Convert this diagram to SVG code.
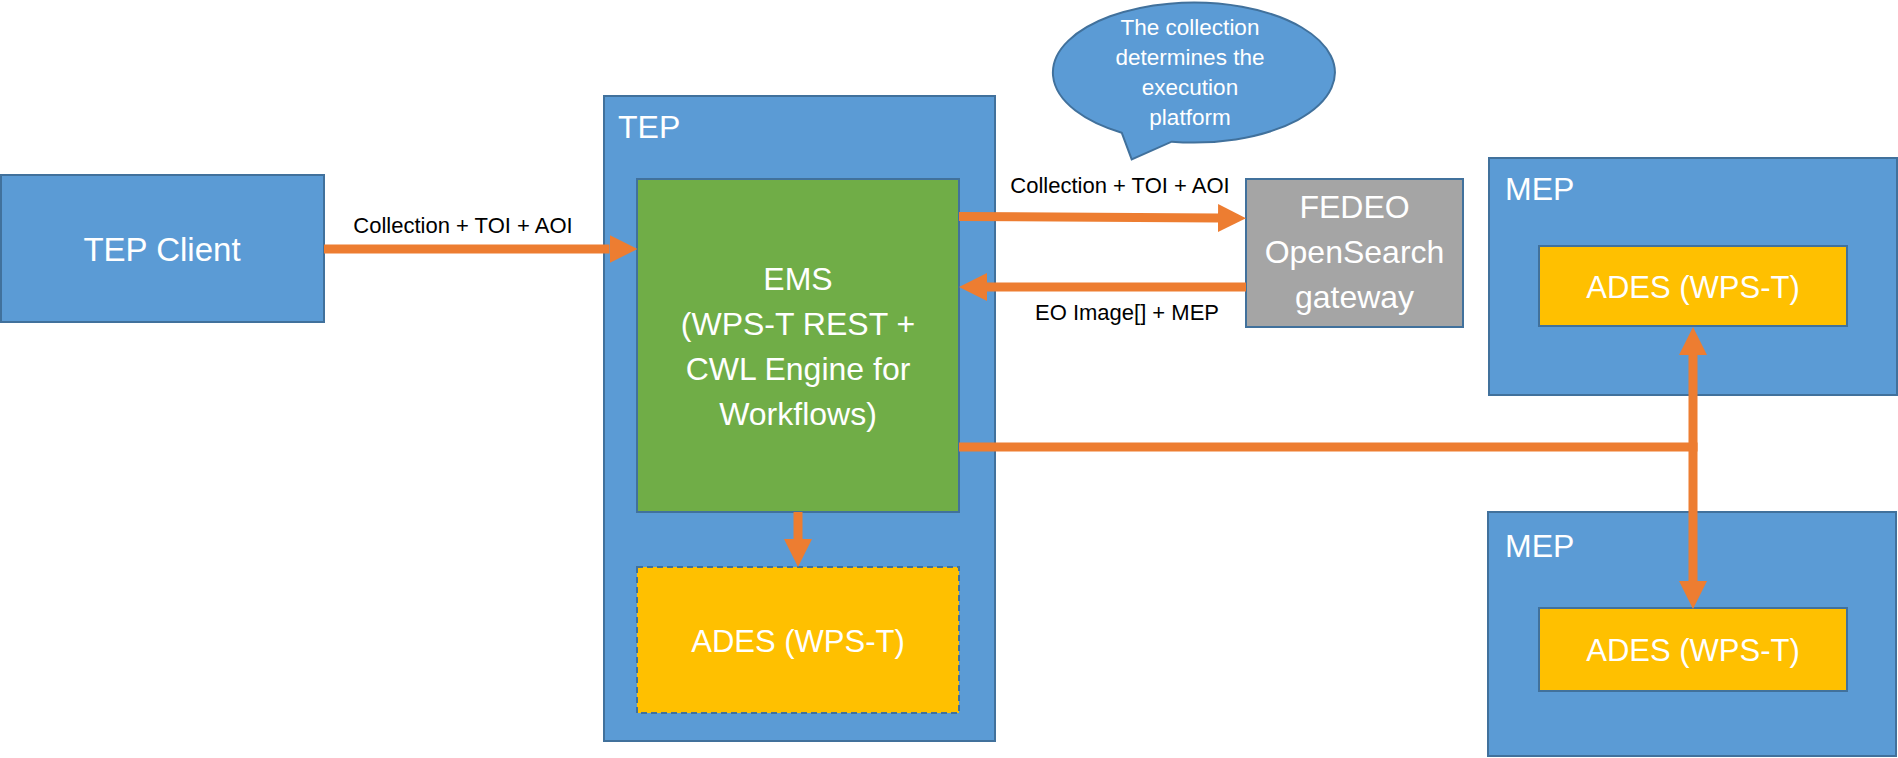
<svg xmlns="http://www.w3.org/2000/svg" width="1898" height="758" viewBox="0 0 1898 758">
<defs>
<style>
.blue{fill:#5B9BD5;stroke:#41719C;stroke-width:2}
.green{fill:#70AD47;stroke:#41719C;stroke-width:2}
.gold{fill:#FFC000;stroke:#41719C;stroke-width:2}
.dash{stroke-dasharray:6 4}
.gray{fill:#A5A5A5;stroke:#41719C;stroke-width:2}
.w{fill:#FFFFFF;font-family:"Liberation Sans",Arial,sans-serif}
.c{text-anchor:middle}
.big{font-size:32px}
.mid{font-size:31px}
.hd{font-size:32px}
.sm{font-size:22.5px}
.lbl{fill:#000000;font-family:"Liberation Sans",Arial,sans-serif;font-size:22px;text-anchor:middle}
.ln{stroke:#ED7D31;stroke-width:9;fill:none}
</style>
<marker id="ah" markerUnits="userSpaceOnUse" markerWidth="28" markerHeight="28" viewBox="0 0 28 28" refX="0" refY="14" orient="auto-start-reverse">
<path d="M0,0 L28,14 L0,28 Z" fill="#ED7D31"/>
</marker>
</defs>

<g id="tep-client">
<rect class="blue" x="1" y="175" width="323" height="147"/>
<text class="w c" style="font-size:33px" x="162" y="261">TEP Client</text>
</g>

<g id="tep">
<rect class="blue" x="604" y="96" width="391" height="645"/>
<text class="w hd" x="618" y="138">TEP</text>
</g>

<g id="ems">
<rect class="green" x="637" y="179" width="322" height="333"/>
<text class="w c big" x="798" y="290">EMS</text>
<text class="w c big" x="798" y="335">(WPS-T REST +</text>
<text class="w c big" x="798" y="380">CWL Engine for</text>
<text class="w c big" x="798" y="425">Workflows)</text>
</g>

<g id="ades-tep">
<rect class="gold dash" x="637" y="567" width="322" height="146"/>
<text class="w c mid" x="798" y="652">ADES (WPS-T)</text>
</g>

<g id="fedeo">
<rect class="gray" x="1246" y="179" width="217" height="148"/>
<text class="w c big" x="1354.5" y="218">FEDEO</text>
<text class="w c big" x="1354.5" y="263">OpenSearch</text>
<text class="w c big" x="1354.5" y="308">gateway</text>
</g>

<g id="callout">
<path class="blue" d="M1121.7,132.7 L1131.7,159.3 L1171.7,141.7 A141,70 0 1 0 1121.7,132.7 Z"/>
<text class="w c sm" x="1190" y="35">The collection</text>
<text class="w c sm" x="1190" y="65">determines the</text>
<text class="w c sm" x="1190" y="95">execution</text>
<text class="w c sm" x="1190" y="125">platform</text>
</g>

<g id="mep-1">
<rect class="blue" x="1489" y="158" width="408" height="237"/>
<text class="w hd" x="1505" y="200">MEP</text>
</g>
<g id="ades-mep-1">
<rect class="gold" x="1539" y="246" width="308" height="80"/>
<text class="w c mid" x="1693" y="298">ADES (WPS-T)</text>
</g>

<g id="mep-2">
<rect class="blue" x="1488" y="512" width="408" height="244"/>
<text class="w hd" x="1505" y="557">MEP</text>
</g>
<g id="ades-mep-2">
<rect class="gold" x="1539" y="608" width="308" height="83"/>
<text class="w c mid" x="1693" y="661">ADES (WPS-T)</text>
</g>

<g id="connectors">
<line class="ln" x1="324" y1="249" x2="609.5" y2="249" marker-end="url(#ah)"/>
<text class="lbl" x="463" y="233">Collection + TOI + AOI</text>
<line class="ln" x1="959" y1="216.5" x2="1218" y2="218" marker-end="url(#ah)"/>
<text class="lbl" x="1120" y="193">Collection + TOI + AOI</text>
<line class="ln" x1="1246" y1="287" x2="987" y2="287" marker-end="url(#ah)"/>
<text class="lbl" x="1127" y="320">EO Image[] + MEP</text>
<line class="ln" x1="798" y1="512" x2="798" y2="539" marker-end="url(#ah)"/>
<line class="ln" x1="959" y1="447" x2="1697.5" y2="447"/>
<line class="ln" x1="1693" y1="355" x2="1693" y2="581" marker-start="url(#ah)" marker-end="url(#ah)"/>
</g>
</svg>
